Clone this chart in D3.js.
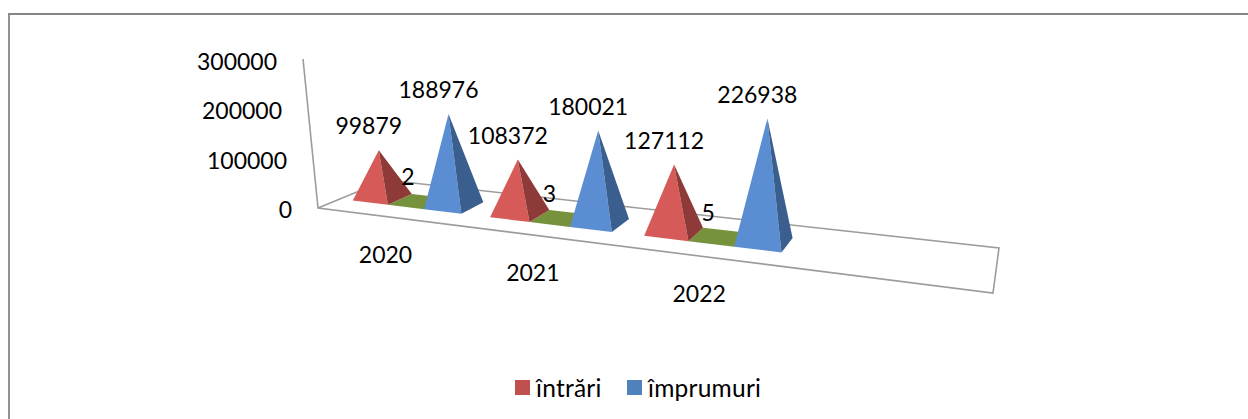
<!DOCTYPE html>
<html><head><meta charset="utf-8">
<script src="https://cdn.jsdelivr.net/npm/d3@7"></script>
<style>html,body{margin:0;padding:0;background:#fff}svg{display:block}text{font-family:Lato,"Open Sans",sans-serif;fill:#000}</style>
</head><body><svg id="c" width="1248" height="419"></svg>
<script>
const categories = ["2020","2021","2022"];
const intrari = [99879,108372,127112];
const mid = [2,3,5];
const imprumuri = [188976,180021,226938];
const yTicks = [0,100000,200000,300000];
const legendNames = ["întrări","împrumuri"];
const seriesList = [
  {key:"intrari",values:intrari,idx:0,light:"#d55a58",dark:"#8d3a39"},
  {key:"mid",values:mid,idx:1,light:"#76923c",dark:"#76923c"},
  {key:"imprumuri",values:imprumuri,idx:2,light:"#5a8dd1",dark:"#3a5f8e"}
];
const W=1248,H=419;
const svg=d3.select("#c");

// floor plane corners (projective mapping of the unit square)
const FL=[318,208],FR=[993,293],BR=[999,248],BL=[386,180];
const TOP=[303,59];
function homography(p0,p1,p2,p3){
  const dx1=p1[0]-p2[0],dy1=p1[1]-p2[1],dx2=p3[0]-p2[0],dy2=p3[1]-p2[1];
  const sx=p0[0]-p1[0]+p2[0]-p3[0],sy=p0[1]-p1[1]+p2[1]-p3[1];
  const den=dx1*dy2-dx2*dy1;
  const g=(sx*dy2-dx2*sy)/den,h=(dx1*sy-sx*dy1)/den;
  const a=p1[0]-p0[0]+g*p1[0],b=p3[0]-p0[0]+h*p3[0],c=p0[0];
  const d=p1[1]-p0[1]+g*p1[1],e=p3[1]-p0[1]+h*p3[1],f=p0[1];
  const fn=(u,v)=>{const w=g*u+h*v+1;return [(a*u+b*v+c)/w,(d*u+e*v+f)/w];};
  fn.w=(u,v)=>g*u+h*v+1;
  return fn;
}
const floor=homography(FL,FR,BR,BL);

// scales
const slots=4; // category axis has one empty trailing slot
const uBand=d3.scaleBand().domain(d3.range(slots)).range([0,1]).paddingInner(0.2).paddingOuter(0.1);
const vScale=d3.scaleLinear().domain([0,1]).range([0.30,0.67]);
const yScale=d3.scaleLinear().domain([0,300000]).range([0,149]);
const lean=d3.scaleLinear().domain([FL[0],BR[0]]).range([-0.1,0.097]);
const depthFactor=0.985;

const poly=pts=>pts.map(p=>p.map(n=>n.toFixed(1)).join(",")).join(" ");

// chart frame
svg.append("path").attr("d",d3.line()([[W,14],[9,14],[9,H]])).attr("fill","none").attr("stroke","#858585").attr("stroke-width",1.8);

// walls / floor
const grid=svg.append("g").attr("fill","none").attr("stroke","#9c9c9c").attr("stroke-width",1.6);
grid.append("path").attr("d",d3.line()([TOP,FL,FR,BR,BL,FL]));

// y tick labels
svg.append("g").selectAll("text").data(yTicks).join("text")
  .attr("x",d=>FL[0]+(TOP[0]-FL[0])*d/300000-26)
  .attr("y",d=>FL[1]-yScale(d)+(d?2.5:1.5))
  .attr("dy","0.35em").attr("text-anchor","end").attr("font-size",23).text(d=>d);

// pyramids
const marks=svg.append("g");
const labels=[];
seriesList.forEach(s=>{
  const w=uBand.bandwidth()/3;
  s.values.forEach((val,i)=>{
    const u0=uBand(i)+s.idx*w,u1=u0+w,uc=(u0+u1)/2;
    const vc=vScale(0.5);
    const A=floor(u0,vScale(0)),B=floor(u1,vScale(0)),C=floor(u1,vScale(1)),D=floor(u0,vScale(1));
    const c=floor(uc,vc);
    const h=yScale(val)*depthFactor/floor.w(uc,vc);
    const apex=[c[0]+lean(c[0])*h,c[1]-h];
    labels.push({val,x:apex[0]-10,y:apex[1]-24});
    if(s.key==="mid"){
      marks.insert("polygon",":first-child").attr("points",poly([A,B,C,D])).attr("fill",s.light);
    } else {
      marks.append("polygon").attr("points",poly([A,B,apex])).attr("fill",s.light);
      marks.append("polygon").attr("points",poly([B,C,apex])).attr("fill",s.dark);
    }
  });
});

// data labels
svg.append("g").selectAll("text").data(labels).join("text")
  .attr("x",d=>d.x).attr("y",d=>d.y).attr("dy","0.35em").attr("text-anchor","middle").attr("font-size",23).text(d=>d.val);

// category labels
svg.append("g").selectAll("text").data(categories).join("text")
  .attr("x",(d,i)=>floor(uBand(i)+uBand.bandwidth()/2,0)[0])
  .attr("y",(d,i)=>floor(uBand(i)+uBand.bandwidth()/2,0)[1]+38)
  .attr("dy","0.35em").attr("text-anchor","middle").attr("font-size",23).text(d=>d);

// legend
const legendX=d3.scalePoint().domain(legendNames).range([515,627]);
const legendColor=d3.scaleOrdinal().domain(legendNames).range(["#c0504d","#4f81bd"]);
const lg=svg.append("g").selectAll("g").data(legendNames).join("g").attr("transform",d=>`translate(${legendX(d)},380)`);
lg.append("rect").attr("width",15).attr("height",15).attr("fill",d=>legendColor(d));
lg.append("text").attr("x",21).attr("y",8).attr("dy","0.35em").attr("font-size",24.5).attr("letter-spacing",0.25).text(d=>d);
</script></body></html>
